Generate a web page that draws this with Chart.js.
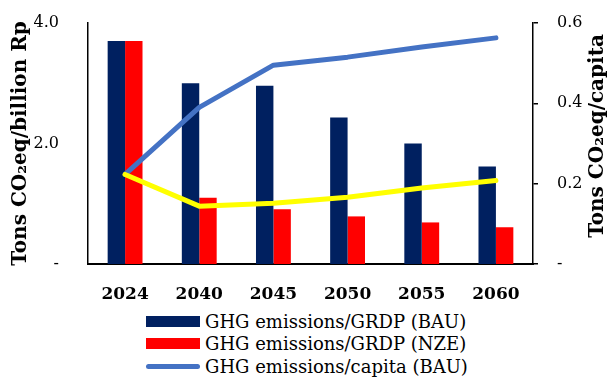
<!DOCTYPE html>
<html lang="en">
<head>
  <meta charset="UTF-8">
  <title>GHG emissions intensity</title>
  <script src="https://cdn.jsdelivr.net/npm/chart.js"></script>
  <style>
    body {
      margin: 0;
      background: white;
      font-family: 'DejaVu Serif', serif;
    }

    .wrap {
      position: relative;
      width: 607px;
      height: 377px;
    }

    #legend {
      position: absolute;
      left: 146px;
      top: 310px;
      font-size: 18px;
      color: #000;
    }

    .row {
      display: flex;
      align-items: center;
      height: 22.5px;
    }

    .swatch {
      width: 54px;
      margin-right: 5px;
    }
  </style>
</head>
<body>
  <div class="wrap">
    <canvas id="chart" width="607" height="310"></canvas>
    <div id="legend"></div>
  </div>

  <script>
    const years = ["2024", "2040", "2045", "2050", "2055", "2060"];
    const grdpBAU = [3.7, 3.0, 2.96, 2.43, 2.0, 1.62];
    const grdpNZE = [3.7, 1.1, 0.91, 0.79, 0.69, 0.61];
    const capitaBAU = [0.223, 0.39, 0.495, 0.515, 0.54, 0.563];
    const capitaNZE = [0.223, 0.144, 0.151, 0.166, 0.189, 0.208];

    const serif = "'DejaVu Serif', serif";

    // right axis title reads bottom-to-top, like the left one
    const rightTitle = {
      id: "rightTitle",
      afterDraw(chart) {
        const ctx = chart.ctx;
        ctx.save();
        ctx.translate(598, 136);
        ctx.rotate(-Math.PI / 2);
        ctx.font = "bold 20px " + serif;
        ctx.fillStyle = "#000";
        ctx.textAlign = "center";
        ctx.textBaseline = "middle";
        ctx.fillText("Tons CO\u2082eq/capita", 0, 0);
        ctx.restore();
      }
    };

    const dash = (v) => (v === 0 ? "-" : null);

    const chart = new Chart(document.getElementById("chart"), {
      data: {
        labels: years,
        datasets: [
          {
            type: "bar",
            label: "GHG emissions/GRDP (BAU)",
            data: grdpBAU,
            backgroundColor: "#002060",
            yAxisID: "y",
            order: 3
          },
          {
            type: "bar",
            label: "GHG emissions/GRDP (NZE)",
            data: grdpNZE,
            backgroundColor: "#FF0000",
            yAxisID: "y",
            order: 3
          },
          {
            type: "line",
            label: "GHG emissions/capita (BAU)",
            data: capitaBAU,
            borderColor: "#4472C4",
            backgroundColor: "#4472C4",
            borderWidth: 5,
            borderCapStyle: "round",
            borderJoinStyle: "round",
            pointRadius: 0,
            yAxisID: "y1",
            order: 2
          },
          {
            type: "line",
            label: "GHG emissions/capita (NZE)",
            data: capitaNZE,
            borderColor: "#FFFF00",
            backgroundColor: "#FFFF00",
            borderWidth: 5,
            borderCapStyle: "round",
            borderJoinStyle: "round",
            pointRadius: 0,
            yAxisID: "y1",
            order: 1
          }
        ]
      },
      options: {
        responsive: false,
        animation: false,
        layout: { padding: { top: 23 } },
        datasets: {
          bar: { categoryPercentage: 0.47, barPercentage: 1 }
        },
        plugins: {
          legend: { display: false },
          tooltip: { enabled: false }
        },
        scales: {
          x: {
            grid: { display: false, drawTicks: false },
            border: { color: "#000", width: 2 },
            ticks: {
              color: "#000",
              padding: 20,
              font: { family: serif, size: 17, weight: "bold" }
            },
            afterFit(s) { s.height = 46; s.paddingLeft = 0; s.paddingRight = 0; }
          },
          y: {
            position: "left",
            min: 0,
            max: 4,
            grid: { display: false, drawTicks: false },
            border: { color: "#000", width: 1.5 },
            ticks: {
              stepSize: 2,
              color: "#000",
              padding: 29,
              font: { family: serif, size: 16 },
              callback: (v) => dash(v) || v.toFixed(1)
            },
            title: {
              display: true,
              text: "Tons CO\u2082eq/billion Rp",
              color: "#000",
              padding: { top: 9, bottom: 0 },
              font: { family: serif, size: 20, weight: "bold" }
            },
            afterFit(s) { s.width = 88; s.paddingTop = 0; s.paddingBottom = 0; }
          },
          y1: {
            position: "right",
            min: 0,
            max: 0.6,
            grid: { drawOnChartArea: false, color: "#000", tickLength: 5, lineWidth: 1.5 },
            border: { color: "#000", width: 1.5 },
            ticks: {
              stepSize: 0.2,
              color: "#000",
              padding: 19,
              font: { family: serif, size: 16 },
              callback: (v) => dash(v) || v.toFixed(1)
            },
            afterFit(s) { s.width = 74; s.paddingTop = 0; s.paddingBottom = 0; }
          }
        }
      },
      plugins: [rightTitle]
    });

    // legend as in the reference: three stacked rows, NZE capita line left out
    const legend = document.getElementById("legend");
    chart.data.datasets.slice(0, 3).forEach((ds) => {
      const row = document.createElement("div");
      row.className = "row";
      const sw = document.createElement("span");
      sw.className = "swatch";
      sw.style.background = ds.backgroundColor;
      if (ds.type === "line") {
        sw.style.height = "5px";
        sw.style.borderRadius = "3px";
      } else {
        sw.style.height = "11px";
      }
      row.appendChild(sw);
      row.appendChild(document.createTextNode(ds.label));
      legend.appendChild(row);
    });
  </script>
</body>
</html>
